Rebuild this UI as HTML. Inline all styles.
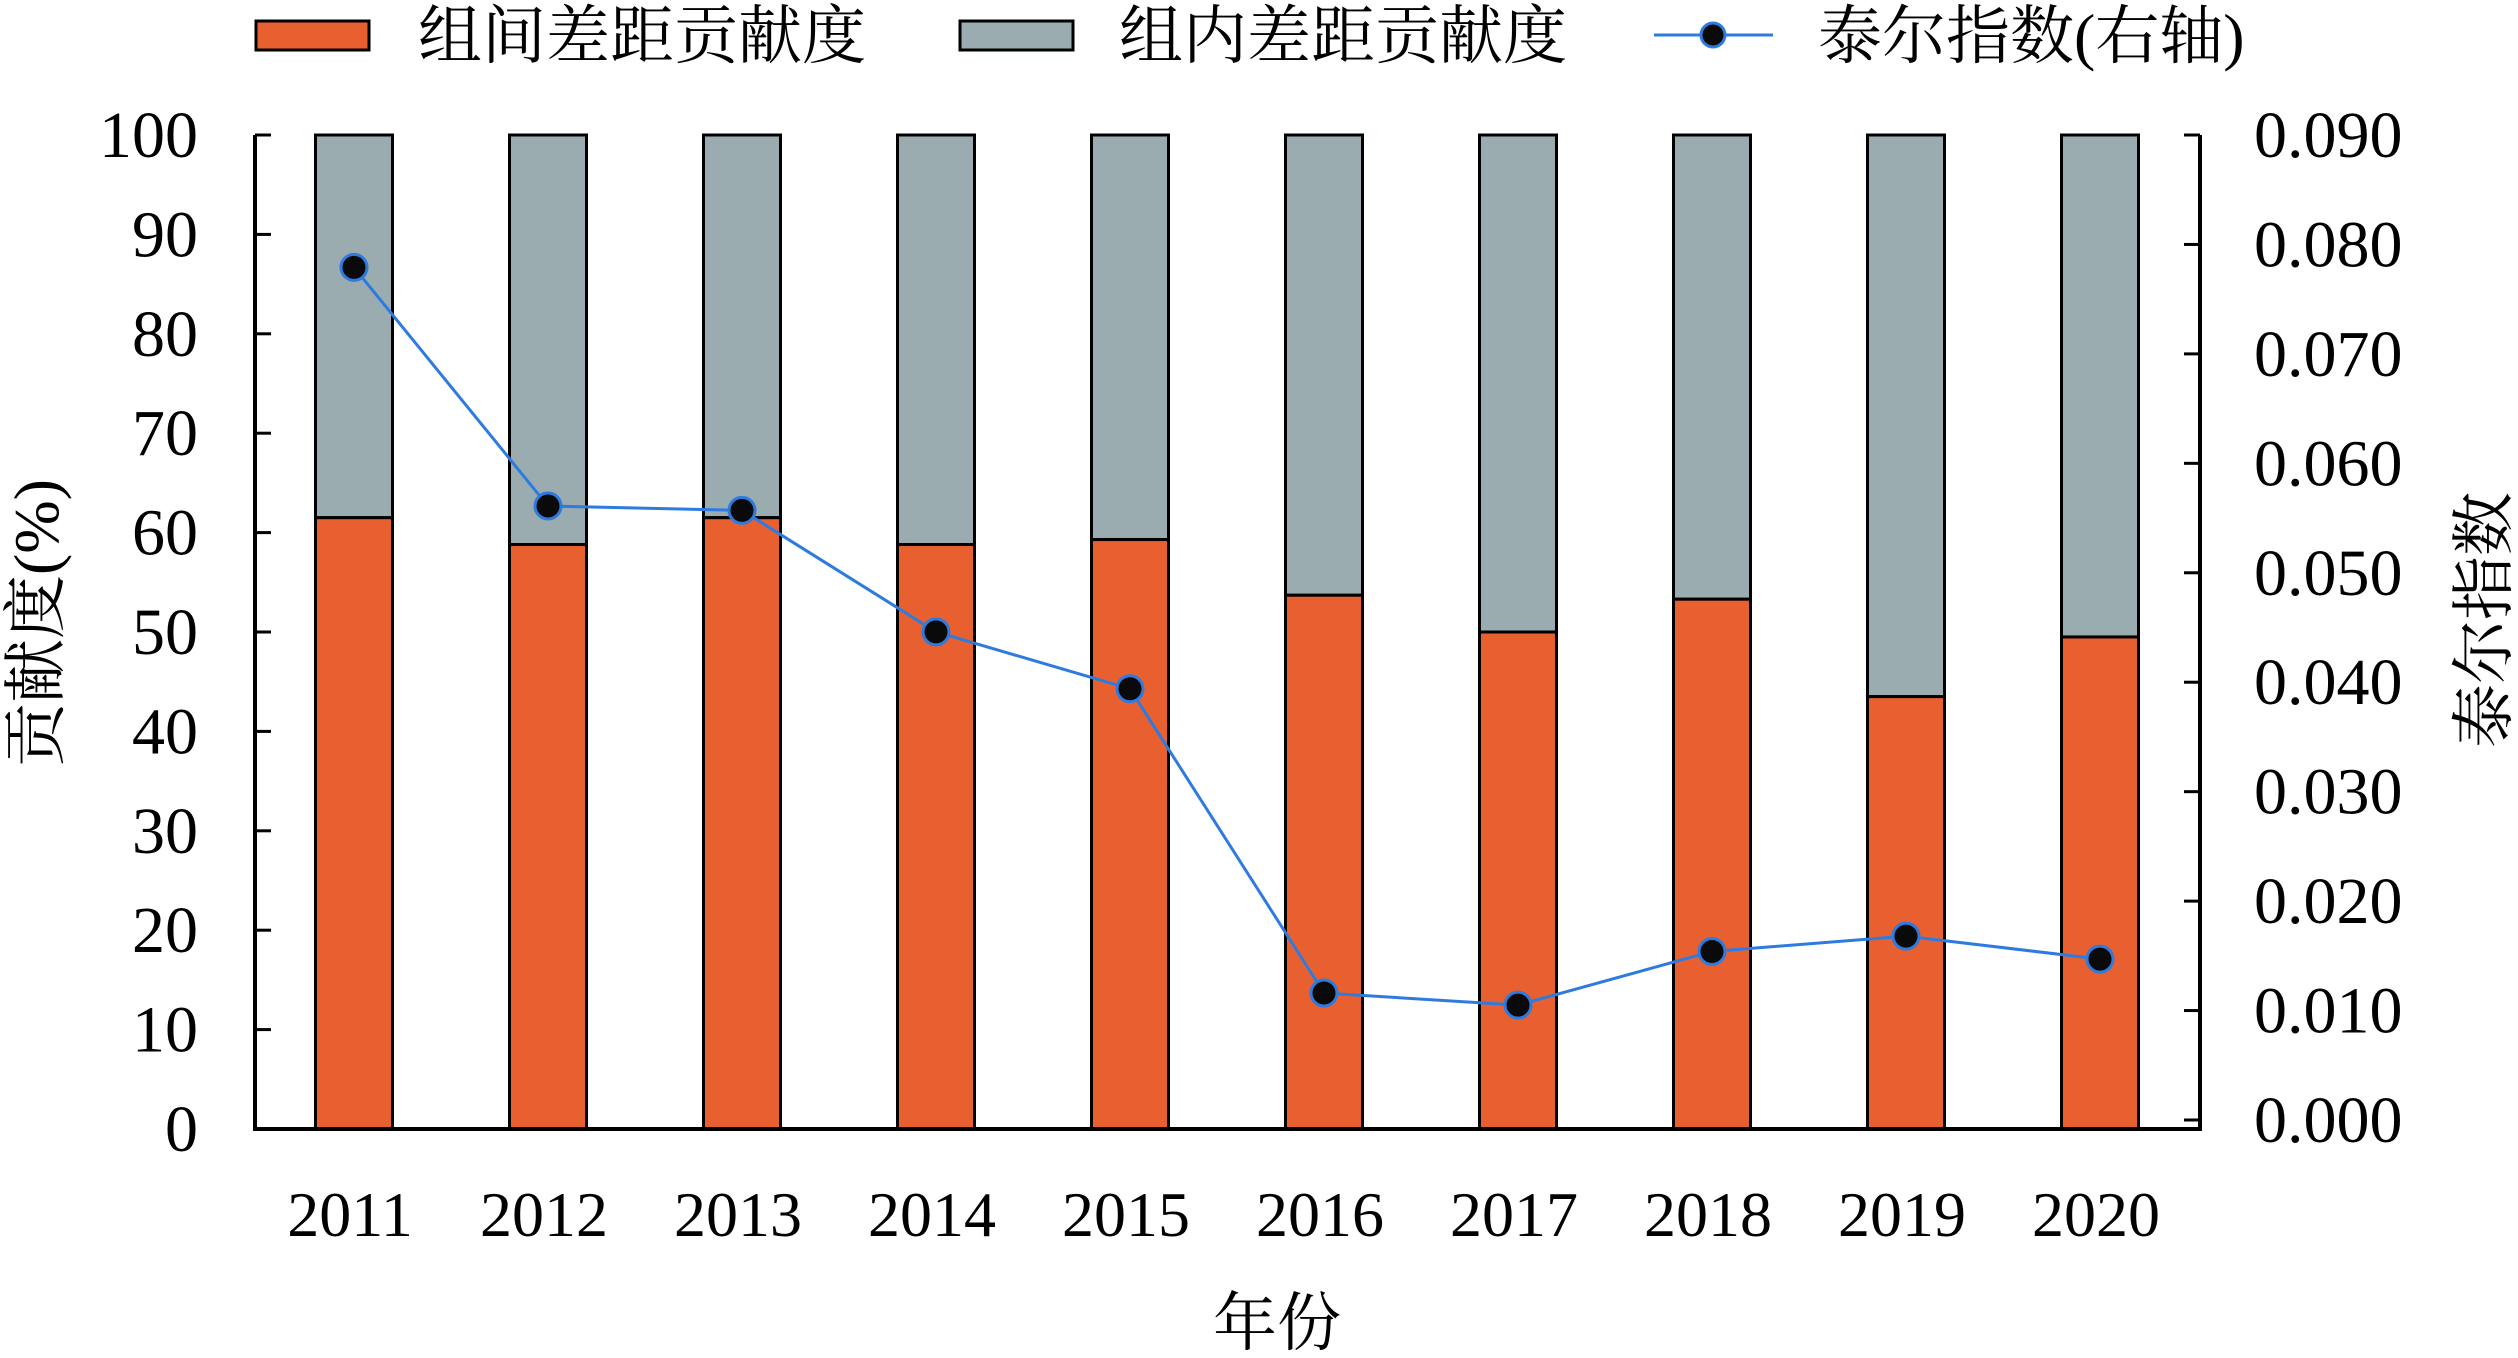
<!DOCTYPE html>
<html><head><meta charset="utf-8"><style>
html,body{margin:0;padding:0;background:#fff;}
svg text{font-family:"Liberation Serif","Times New Roman","Noto Serif CJK SC",serif;fill:#000;}
</style></head><body>
<svg id="chart" width="2518" height="1353" viewBox="0 0 2518 1353" xmlns="http://www.w3.org/2000/svg"></svg>
<script>
const years = ["2011","2012","2013","2014","2015","2016","2017","2018","2019","2020"];
const betweenShare = [61.5, 58.8, 61.5, 58.8, 59.3, 53.7, 50.0, 53.3, 43.5, 49.5];
const theil = [0.0779, 0.0561, 0.0557, 0.0446, 0.0394, 0.0116, 0.0105, 0.0154, 0.0168, 0.0147];
const leftTicks = [0,10,20,30,40,50,60,70,80,90,100];
const rightTicks = ["0.000","0.010","0.020","0.030","0.040","0.050","0.060","0.070","0.080","0.090"];

const svg = document.getElementById('chart');
const NS = 'http://www.w3.org/2000/svg';
const FF = '"Liberation Serif","Times New Roman","Noto Serif CJK SC",serif';
function mk(tag, attrs, parent){const e=document.createElementNS(NS,tag);for(const k in attrs)e.setAttribute(k,attrs[k]);if(tag==='text')e.setAttribute('font-family',FF);(parent||svg).appendChild(e);return e;}
const L=255, R=2200, T=135, B=1129;
const xC = i => 354 + i*194;
const yL = v => B - (v/100)*(B-T);
const yR = v => 1120 - (v/0.09)*(1120-135);
const BW = 77;

years.forEach((y,i)=>{
  const g = mk('g',{});
  
  
  const r1 = mk('rect',{x:xC(i)-BW/2,y:yL(100),width:BW,height:yL(betweenShare[i])-yL(100),fill:'#9AACB0',stroke:'#000','stroke-width':3},g);
  
  
  const r2 = mk('rect',{x:xC(i)-BW/2,y:yL(betweenShare[i]),width:BW,height:B-yL(betweenShare[i]),fill:'#E8602F',stroke:'#000','stroke-width':3},g);
  
  
  const t = mk('text',{x:xC(i)-4,y:1236,'font-size':64,'text-anchor':'middle'});
  t.textContent=y;
  
  
});
const ax = mk('path',{d:`M${L},${T} V${B} H${R} V${T}`,fill:'none',stroke:'#000','stroke-width':4});


leftTicks.forEach(v=>{
  mk('line',{x1:L,x2:L+16,y1:yL(v),y2:yL(v),stroke:'#000','stroke-width':3});
  const t=mk('text',{x:198,y:yL(v)+22,'font-size':66,'text-anchor':'end'});
  t.textContent=v;
  
  
});
rightTicks.forEach(s=>{
  const v=parseFloat(s);
  mk('line',{x1:R-16,x2:R,y1:yR(v),y2:yR(v),stroke:'#000','stroke-width':3});
  const t=mk('text',{x:2254,y:yR(v)+22,'font-size':66});
  t.textContent=s;
  
  
});
const pts = theil.map((v,i)=>xC(i)+','+yR(v)).join(' ');
const pl = mk('polyline',{points:pts,fill:'none',stroke:'#2E7BE0','stroke-width':3});


theil.forEach((v,i)=>{
  const c=mk('circle',{cx:xC(i),cy:yR(v),r:13,fill:'#0a0a0a',stroke:'#2E7BE0','stroke-width':3});
  
  
});
let t=mk('text',{x:1277,y:1345,'font-size':64,'text-anchor':'middle'});t.textContent='年份';


t=mk('text',{x:0,y:0,'font-size':64,'text-anchor':'middle',transform:'translate(58,623) rotate(-90)'});t.textContent='贡献度(%)';


t=mk('text',{x:0,y:0,'font-size':64,'text-anchor':'middle',transform:'translate(2506,620) rotate(-90)'});t.textContent='泰尔指数';


let g=mk('g',{});
mk('rect',{x:256,y:21,width:113,height:29,fill:'#E8602F',stroke:'#000','stroke-width':3},g);
t=mk('text',{x:418,y:58,'font-size':64},g);t.textContent='组间差距贡献度';
g=mk('g',{});
mk('rect',{x:960,y:21,width:113,height:29,fill:'#9AACB0',stroke:'#000','stroke-width':3},g);
t=mk('text',{x:1119,y:58,'font-size':64},g);t.textContent='组内差距贡献度';
g=mk('g',{});
mk('line',{x1:1654,x2:1773,y1:35,y2:35,stroke:'#2E7BE0','stroke-width':3},g);
mk('circle',{cx:1713,cy:35,r:12,fill:'#0a0a0a',stroke:'#2E7BE0','stroke-width':3},g);
t=mk('text',{x:1818,y:58,'font-size':64},g);t.textContent='泰尔指数(右轴)';
</script>
</body></html>
